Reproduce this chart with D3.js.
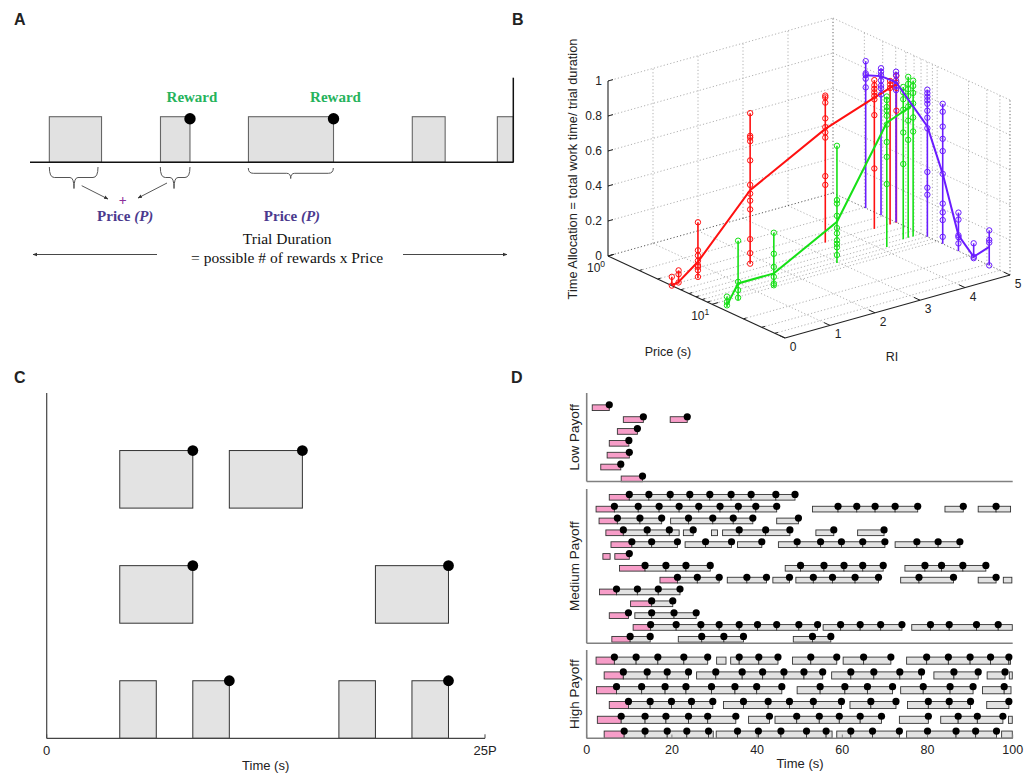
<!DOCTYPE html>
<html><head><meta charset="utf-8">
<script src="https://cdn.jsdelivr.net/npm/d3@7"></script>
<style>
body{margin:0;background:#fff}
svg{display:block}
text{font-family:"Liberation Sans",Arial,sans-serif;fill:#222}
.serif{font-family:"Liberation Serif","DejaVu Serif",serif}
</style>
</head><body>
<svg id="c" width="1031" height="774"></svg>
<script>
// ================= DATA =================
// Panel A (schematic, arbitrary time units 0-100)
const aBlocks  = [[4.0,14.8],[27.0,33.1],[45.2,62.8],[79.1,85.9],[96.7,100]];
const aRewards = [33.1, 62.8];
const aBraces  = [[4.0,14.07,9.1,"big"],[26.96,33.1,29.8,"big"],[45.17,62.76,53.94,"flat"]];
const aPriceLabels = [19.7, 54.2];

// Panel C (slots of 25P/12)
const cTicks = [0, 12];
const cTickLabels = ["0", "25P"];
const cRows = [
  {level:2, bars:[[2,4],[5,7]],               rewards:[4,7]},
  {level:1, bars:[[2,4],[9,11]],              rewards:[4,11]},
  {level:0, bars:[[2,3],[4,5],[8,9],[10,11]], rewards:[5,11]}
];

// Panel B (3D stems): price (s), RI, time-allocation values, mean
const redPrice = [4.1,4.1,4.1,4.1,4.1,4.1,4.1,4.1];
const redRI    = [0.0,0.15,0.58,1.74,3.41,4.5,4.85,4.99];
const redVals  = [
  [0.05,0.0],[0.076,0.054,0.007],
  [0.32,0.16,0.13,0.10,0.075,0.065,0.046,0.008],
  [0.86,0.73,0.72,0.70,0.59,0.45,0.40,0.36,0.31,0.14,0.06,0.0],
  [0.84,0.83,0.80,0.71,0.66,0.63,0.60,0.38,0.33],
  [0.85,0.82,0.80,0.78,0.76,0.74,0.65,0.345],
  [0.82,0.80,0.78],[0.84,0.80,0.77,0.64]];
const redMean  = [0.0,0.01,0.094,0.42,0.65,0.75,0.78,0.79];

const greenPrice = [12.3,11.0,10.0,8.3,7.8,7.1,7.1,7.1];
const greenRI    = [0.12,0.48,1.37,2.96,4.13,4.59,4.70,4.81];
const greenVals  = [
  [0.06,0.03,0.01],[0.34,0.105,0.058,0.014],
  [0.31,0.19,0.115,0.058,0.02,0.01],
  [0.67,0.36,0.34,0.27,0.2,0.17,0.13,0.11,0.09,0.046],
  [0.86,0.84,0.80,0.78,0.75,0.70,0.60,0.515,0.36],
  [0.87,0.84,0.80,0.74,0.61,0.43],
  [0.92,0.88,0.85,0.81,0.75,0.67,0.56],
  [0.89,0.86,0.82,0.76,0.68,0.60]];
const greenMean  = [0.01,0.096,0.078,0.236,0.71,0.73,0.74,0.76];

const purplePrice = [2.06,2.89,4.03,8.05,11.3,16.0,22.4,31.6];
const purpleRI    = [5,5,5,5,5,5,5,5];
const purpleVals  = [
  [0.84,0.77,0.76,0.74,0.69],
  [0.84,0.82,0.80,0.77,0.74,0.725,0.69],
  [0.86,0.84,0.81,0.78,0.755],
  [0.84,0.82,0.80,0.78,0.76,0.72,0.68,0.62,0.37,0.28,0.24],
  [0.80,0.755,0.67,0.60,0.53,0.40,0.23,0.18,0.136,0.04],
  [0.22,0.18,0.09,0.08,0.044],
  [0.085,0.008,0.0],
  [0.20,0.145,0.13,0.0]];
const purpleMean  = [0.76,0.795,0.80,0.63,0.40,0.09,0.008,0.106];

const zTicks = [0,0.2,0.4,0.6,0.8,1];
const zTickLabels = ["0","0.2","0.4","0.6","0.8","1"];
const riTicks = [0,1,2,3,4,5];
const priceMajor = [1,10];
const priceMinor = [2,3,4,5,6,7,8,9,20,30,40];

// Panel D: rows of runs. Array run = [start, reward1, reward2, ...];
// object run = {s:start, d:[rewards], e:end without reward, pink}
const lowRows = [
  [[1.3,5.3]],
  [[8.6,13.3],{s:19.6,d:[23.6],pink:true}],
  [[7.2,11.9]],
  [[5.3,9.9]],
  [[4.8,10.0]],
  [[3.3,8.0]],
  [[8.1,13.1]]
];
const medRows = [
  [[5.3,10.0,14.6,19.6,24.2,28.9,33.9,38.6,44.4,48.9]],
  [[2.2,6.5,12.1,17.0,21.7,26.3,31.3,35.6,39.7,44.6],[53.0,59.0,63.4,67.7,72.4,77.7],[84.1,88.4],{s:91.9,d:[96.1],e:99.5}],
  [[2.9,7.2,12.5,17.6],[19.7,23.9,29.6,34.4,39.0],[44.6,49.7]],
  [{s:4.5,d:[8.6,14.2,19.4],e:21.7},[22.7,25.0],{s:29.3,d:[],e:30.7},[31.9,35.8,42.0,47.7],[53.8,58.0],[63.6,69.8]],
  [[5.7,10.6,15.25,21.3],[23.1,27.9,34.0],[35.4,41.1],[45.0,49.4,54.9,59.8,64.8,70.0],[72.4,77.5,82.5,87.6]],
  [{s:3.8,d:[],e:5.5,pink:true},{s:6.6,d:[10.0],pink:true}],
  [[7.7,13.7,18.6,23.3,29.0],[46.6,50.2,55.7,60.4,64.8,69.6],[74.7,79.4,83.3,88.3,93.7]],
  [[17.2,21.3,25.97,31.1],[33.0,37.6,42.2],[43.7,47.6],[49.1,53.2,57.7,63.0,68.5],[73.7,78.0,86.1],[91.9,96.1],{s:97.8,d:[],e:99.8}],
  [[3.0,7.0,11.9,16.8,21.9]],
  [[10.3,15.25,20.2]],
  [[5.3,9.8],[11.3,15.25,20.5,25.7]],
  [[10.9,15.0,21.0,26.8,31.1,35.8,40.1,44.6,49.8,54.2],[55.5,59.6,64.2,69.0,74.0],{s:76.3,d:[80.7,85.1,91.5,96.6],e:99.9}],
  [[5.9,10.2,14.9],[21.5,27.0,32.2,36.8],[48.5,53.0,57.3]]
];
const highRows = [
  [[2.2,6.5,11.6,16.7,22.8,28.4],{s:30.5,d:[],e:32.7},[33.8,35.8,40.4,44.9],[48.3,52.6,58.7],[60.2,65.0,71.4],{s:75.1,d:[79.8,84.9,90.0,94.8,99.1],e:99.5}],
  [[4.1,8.6,14.2,18.9,23.9],[25.8,30.3,36.5,41.3,46.3,51.0,55.4],[57.5,62.0,67.4,73.5,78.6],[81.5,86.2,91.9],[94.0,98.2],{s:99.2,d:[],e:99.9}],
  [[2.3,7.0,12.9,18.4,23.3,29.3,34.8,39.9,45.8],[49.4,54.8,60.6,65.9,71.8],[73.7,79.0,85.3,90.7],{s:92.9,d:[98.0],e:99.6}],
  [[5.3,9.8,14.9,19.9,24.6,29.6],[32.1,36.8,42.6,47.6,53.2,59.8],[61.8,66.7,72.6],[75.3,80.2,85.1,90.1],[93.9,99.1]],
  [[2.5,8.1,13.7,18.6,23.9,28.4,35.0],[38.0,42.9],[44.2,49.3,54.6,59.3,64.2,69.2],[73.4,80.2],[83.1,87.2,91.7,97.7],{s:99.0,d:[],e:99.9}],
  [{s:4.1,d:[8.8,13.7,18.9,23.5,28.6],e:29.7},{s:30.4,d:[35.4,40.3,45.6,51.6,56.2],e:57.6},[58.7,62.0,67.1,73.4],[75.1,80.0,86.7,91.3,96.2],{s:97.4,d:[],e:99.9}]
];
const dTicks = [0,20,40,60,80,100];

// ================= DRAW =================
const svg = d3.select("#c");
svg.append("rect").attr("width",1031).attr("height",774).attr("fill","#fff");

const defs = svg.append("defs");
defs.append("marker").attr("id","arr").attr("viewBox","0 0 10 10").attr("refX",9).attr("refY",5)
  .attr("markerWidth",5).attr("markerHeight",5).attr("orient","auto-start-reverse")
  .append("path").attr("d","M0,1 L10,5 L0,9 z").attr("fill","#333");

// panel letters
[["A",14,25],["B",512,25],["C",14,383],["D",511,383]].forEach(([t,x,y])=>{
  svg.append("text").attr("x",x).attr("y",y).attr("font-size",16).attr("font-weight","bold").attr("fill","#000").text(t);
});

// ---------- Panel A ----------
(function(){
  const g = svg.append("g");
  const xA = d3.scaleLinear().domain([0,100]).range([30,513.3]);
  const yA = d3.scaleLinear().domain([0,1]).range([162.3,116.7]);
  g.selectAll("rect.blk").data(aBlocks).join("rect").attr("class","blk")
    .attr("x",d=>xA(d[0])).attr("y",yA(1)).attr("width",d=>xA(d[1])-xA(d[0])).attr("height",yA(0)-yA(1))
    .attr("fill","#e1e1e1").attr("stroke","#666").attr("stroke-width",1.1);
  g.append("line").attr("x1",xA(0)).attr("x2",xA(100)).attr("y1",yA(0)).attr("y2",yA(0)).attr("stroke","#111").attr("stroke-width",1.5);
  g.append("line").attr("x1",xA(100)).attr("x2",xA(100)).attr("y1",77.7).attr("y2",yA(0)).attr("stroke","#111").attr("stroke-width",1.5);
  g.selectAll("circle").data(aRewards).join("circle").attr("cx",d=>xA(d)).attr("cy",yA(1)+2).attr("r",5.7).attr("fill","#000");
  aRewards.forEach(r=>{
    g.append("text").attr("class","serif").attr("x",xA(r)+2).attr("y",102).attr("text-anchor","middle")
      .attr("font-size",15).attr("font-weight","bold").style("fill","#26b35c").text("Reward");
  });
  aBraces.forEach(([a,b,c,type])=>{
    const x1=xA(a),x2=xA(b),xc=xA(c);
    const yt = type==="big"?167:168, ym = type==="big"?177.5:173.3, yp = type==="big"?188.5:178.5;
    const p = `M${x1},${yt} Q${x1},${ym} ${x1+5},${ym} L${xc-4},${ym} Q${xc},${ym} ${xc},${yp} Q${xc},${ym} ${xc+4},${ym} L${x2-5},${ym} Q${x2},${ym} ${x2},${yt}`;
    g.append("path").attr("d",p).attr("fill","none").attr("stroke","#555").attr("stroke-width",1);
  });
  [[10.7,185.7,16.14,199],[28.35,183,22.35,198]].forEach(([a,y1,b,y2])=>{
    g.append("line").attr("x1",xA(a)).attr("y1",y1).attr("x2",xA(b)).attr("y2",y2)
      .attr("stroke","#444").attr("stroke-width",0.9).attr("marker-end","url(#arr)");
  });
  g.append("text").attr("class","serif").attr("x",xA(19.2)).attr("y",205).attr("text-anchor","middle")
    .attr("font-size",14).attr("font-weight","bold").style("fill","#8a2f9a").text("+");
  aPriceLabels.forEach(c=>{
    const t = g.append("text").attr("class","serif").attr("x",xA(c)).attr("y",221).attr("text-anchor","middle")
      .attr("font-size",15).attr("font-weight","bold").style("fill","#4b3a8e");
    t.append("tspan").text("Price ");
    t.append("tspan").attr("font-style","italic").text("(P)");
  });
  g.append("text").attr("class","serif").attr("x",xA(53.2)).attr("y",244).attr("text-anchor","middle")
    .attr("font-size",15.5).style("fill","#111").text("Trial Duration");
  g.append("text").attr("class","serif").attr("x",xA(53.2)).attr("y",263).attr("text-anchor","middle")
    .attr("font-size",15.5).style("fill","#111").text("= possible # of rewards x Price");
  [[26.28,0.62],[77.18,98.7]].forEach(([a,b])=>{
    g.append("line").attr("x1",xA(a)).attr("x2",xA(b)).attr("y1",254.5).attr("y2",254.5)
      .attr("stroke","#333").attr("stroke-width",0.9).attr("marker-end","url(#arr)");
  });
})();

// ---------- Panel B ----------
(function(){
  const g = svg.append("g");
  const O=[608,256], PV=[177,82], RV=[225,-63], ZV=[0,-175];
  const pS = d3.scaleLog().domain([1,50]).range([0,1]);
  const rS = d3.scaleLinear().domain([0,5]).range([0,1]);
  const zS = d3.scaleLinear().domain([0,1]).range([0,1]);
  const P = (p,r,z)=>{const a=pS(p),b=rS(r),c=zS(z);
    return [O[0]+a*PV[0]+b*RV[0]+c*ZV[0], O[1]+a*PV[1]+b*RV[1]+c*ZV[1]];};
  const seg=(a,b,col,w,dash)=>g.append("line").attr("x1",a[0]).attr("y1",a[1]).attr("x2",b[0]).attr("y2",b[1])
      .attr("stroke",col).attr("stroke-width",w).attr("stroke-dasharray",dash||null);
  const gc="#a8a8a8", gd="1.2,2.2";
  const allP=[1,...priceMinor.slice(0,8),10,...priceMinor.slice(8),50];
  // back wall (price=1)
  zTicks.slice(1).forEach(z=>seg(P(1,0,z),P(1,5,z),gc,0.9,gd));
  riTicks.slice(1).forEach(r=>seg(P(1,r,0),P(1,r,1),r===5?"#555":gc,0.9,gd));
  // right wall (RI=5)
  zTicks.slice(1).forEach(z=>seg(P(1,5,z),P(50,5,z),gc,0.9,gd));
  allP.slice(1).forEach(p=>seg(P(p,5,0),P(p,5,1),p===50?"#555":gc,0.9,gd));
  // floor
  riTicks.slice(1).forEach(r=>seg(P(1,r,0),P(50,r,0),r===5?"#555":gc,0.9,gd));
  allP.slice(0,-1).forEach(p=>seg(P(p,0,0),P(p,5,0),p===1?"#444":gc,0.9,gd));
  // axes
  seg(P(1,0,0),P(1,0,1),"#222",1.1);
  seg(P(1,0,0),P(50,0,0),"#222",1.1);
  seg(P(50,0,0),P(50,5,0),"#222",1.1);
  zTicks.forEach((z,i)=>{
    const a=P(1,0,z); seg(a,[a[0]+5,a[1]-1.4],"#222",1);
    g.append("text").attr("x",a[0]-6).attr("y",a[1]+4).attr("text-anchor","end").attr("font-size",12).text(zTickLabels[i]);
  });
  riTicks.forEach(r=>{
    const a=P(50,r,0); seg(a,[a[0]-6,a[1]-2.8],"#222",1);
    g.append("text").attr("x",a[0]+8).attr("y",a[1]+13).attr("text-anchor","middle").attr("font-size",12).text(r);
  });
  priceMinor.forEach(p=>{const a=P(p,0,0); seg(a,[a[0]+3,a[1]-0.9],"#222",1);});
  priceMajor.forEach((p,i)=>{
    const a=P(p,0,0); seg(a,[a[0]+6,a[1]-1.7],"#222",1);
    const t=g.append("text").attr("x",a[0]-21).attr("y",a[1]+16).attr("font-size",12);
    t.append("tspan").text("10");
    t.append("tspan").attr("dy",-5).attr("font-size",8.5).text(i);
  });
  g.append("text").attr("x",668).attr("y",356).attr("text-anchor","middle").attr("font-size",12.5).text("Price (s)");
  g.append("text").attr("x",892).attr("y",361).attr("text-anchor","middle").attr("font-size",12.5).text("RI");
  g.append("text").attr("transform","translate(577,169) rotate(-90)").attr("text-anchor","middle")
    .attr("font-size",12.8).text("Time Allocation = total work time/ trial duration");
  // series
  const series=[
    {c:"#ff1010",p:redPrice,r:redRI,v:redVals,m:redMean},
    {c:"#16e016",p:greenPrice,r:greenRI,v:greenVals,m:greenMean},
    {c:"#6a1cff",p:purplePrice,r:purpleRI,v:purpleVals,m:purpleMean}];
  series.forEach(s=>{
    s.p.forEach((pr,i)=>{
      const top=d3.max(s.v[i]);
      seg(P(pr,s.r[i],0),P(pr,s.r[i],top),s.c,1.6);
    });
  });
  series.forEach(s=>{
    s.p.forEach((pr,i)=>{
      s.v[i].forEach(z=>{
        const a=P(pr,s.r[i],z);
        g.append("circle").attr("cx",a[0]).attr("cy",a[1]).attr("r",2.7).attr("fill","none").attr("stroke",s.c).attr("stroke-width",1);
      });
    });
    const pts=s.p.map((pr,i)=>P(pr,s.r[i],s.m[i]));
    g.append("path").attr("d",d3.line()(pts)).attr("fill","none").attr("stroke",s.c).attr("stroke-width",2);
  });
})();

// ---------- Panel C ----------
(function(){
  const g=svg.append("g");
  const xC=d3.scaleLinear().domain([0,12]).range([46.7,485]);
  const yC=d3.scaleLinear().domain([0,3]).range([738.3,393]);
  cRows.forEach(row=>{
    g.selectAll(null).data(row.bars).join("rect")
      .attr("x",d=>xC(d[0])).attr("y",yC(row.level+0.5)).attr("width",d=>xC(d[1])-xC(d[0])).attr("height",yC(row.level)-yC(row.level+0.5))
      .attr("fill","#e3e3e3").attr("stroke","#333").attr("stroke-width",1);
    g.selectAll(null).data(row.rewards).join("circle")
      .attr("cx",d=>xC(d)).attr("cy",yC(row.level+0.5)).attr("r",5.4).attr("fill","#000");
  });
  g.append("line").attr("x1",xC(0)).attr("x2",xC(0)).attr("y1",yC(3)).attr("y2",yC(0)).attr("stroke","#444").attr("stroke-width",1.2);
  g.append("line").attr("x1",xC(0)).attr("x2",xC(12)).attr("y1",yC(0)).attr("y2",yC(0)).attr("stroke","#444").attr("stroke-width",1.2);
  cTicks.forEach((t,i)=>{
    g.append("line").attr("x1",xC(t)).attr("x2",xC(t)).attr("y1",yC(0)).attr("y2",yC(0)-4).attr("stroke","#444");
    g.append("text").attr("x",xC(t)).attr("y",755).attr("text-anchor","middle").attr("font-size",13).text(cTickLabels[i]);
  });
  g.append("text").attr("x",265.7).attr("y",770).attr("text-anchor","middle").attr("font-size",13).text("Time (s)");
})();

// ---------- Panel D ----------
(function(){
  const g=svg.append("g");
  const xD=d3.scaleLinear().domain([0,100]).range([586.7,1012.7]);
  const panels=[
    {name:"Low Payoff",top:393,bottom:481.5,dom:7.46,first:1.24,rows:lowRows},
    {name:"Medium Payoff",top:489,bottom:643.3,dom:13.04,first:0.70,rows:medRows},
    {name:"High Payoff",top:650,bottom:738.3,dom:5.97,first:0.72,rows:highRows}];
  panels.forEach(pn=>{
    const y=d3.scaleLinear().domain([0,pn.dom]).range([pn.top,pn.bottom]);
    pn.rows.forEach((row,ri)=>{
      const c=pn.first+ri, yt=y(c-0.24), yb=y(c+0.24);
      const segs=[], dots=[];
      row.forEach((run,k)=>{
        const o=Array.isArray(run)?{s:run[0],d:run.slice(1)}:run;
        const pts=[o.s,...o.d]; if(o.e!==undefined) pts.push(o.e);
        for(let i=0;i<pts.length-1;i++){
          segs.push({a:pts[i],b:pts[i+1],pink:o.pink||(k===0&&i===0)});
        }
        o.d.forEach(t=>dots.push(t));
      });
      g.selectAll(null).data(segs).join("rect")
        .attr("x",d=>xD(d.a)).attr("y",yt).attr("width",d=>Math.max(0,xD(d.b)-xD(d.a))).attr("height",yb-yt)
        .attr("fill",d=>d.pink?"#f79dc8":"#e2e2e2").attr("stroke","#333").attr("stroke-width",0.9);
      g.selectAll(null).data(dots).join("circle")
        .attr("cx",d=>xD(d)).attr("cy",yt).attr("r",3.6).attr("fill","#000");
    });
    g.append("line").attr("x1",xD(0)).attr("x2",xD(0)).attr("y1",pn.top).attr("y2",pn.bottom).attr("stroke","#808080").attr("stroke-width",1.6);
    g.append("line").attr("x1",xD(0)).attr("x2",xD(100)).attr("y1",pn.bottom).attr("y2",pn.bottom).attr("stroke","#808080").attr("stroke-width",1.6);
    g.append("text").attr("transform",`translate(579,${(pn.top+pn.bottom)/2}) rotate(-90)`).attr("text-anchor","middle")
      .attr("font-size",13.5).text(pn.name);
  });
  dTicks.forEach(t=>{
    g.append("line").attr("x1",xD(t)).attr("x2",xD(t)).attr("y1",738.3).attr("y2",734.5).attr("stroke","#808080");
    g.append("text").attr("x",xD(t)).attr("y",754).attr("text-anchor","middle").attr("font-size",12.5).text(t);
  });
  g.append("text").attr("x",800).attr("y",768).attr("text-anchor","middle").attr("font-size",13).text("Time (s)");
})();
</script>
</body></html>
